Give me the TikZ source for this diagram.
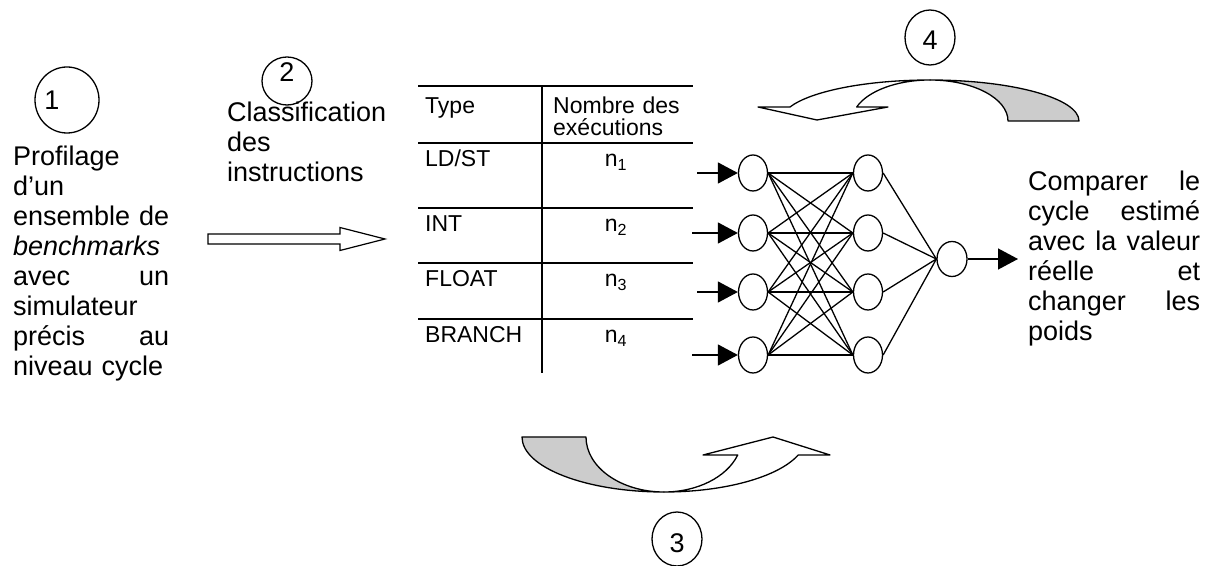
\documentclass[tikz,border=0pt]{standalone}
\usepackage{fontspec}
\setmainfont{Liberation Sans}
\usetikzlibrary{arrows.meta,shapes.geometric}
\begin{document}
\begin{tikzpicture}[x=1pt,y=1pt,
  ln/.style={line width=1.3pt},
  txt/.style={font=\fontsize{27}{30}\selectfont, inner sep=0pt},
  tabtxt/.style={font=\fontsize{23}{22}\selectfont, inner sep=0pt},
  numcirc/.style={draw, ellipse, line width=1.3pt, inner sep=0pt},
  neuron/.style={draw, ellipse, line width=1.3pt, inner sep=0pt, minimum width=29pt, minimum height=36pt},
  tip/.style={-{Triangle[length=20pt,width=21pt]}},
  ribbon/.style={line width=1.3pt, line join=round},
]
\useasboundingbox (0,0) rectangle (1215,565);

% numbered circles
\node[numcirc, minimum width=64pt, minimum height=66pt] (c1) at (67,465) {};
\node[txt, anchor=base] (l1) at (52,455) {1};
\node[numcirc, minimum width=50pt, minimum height=48pt] (c2) at (287,484) {};
\node[txt, anchor=base] (l2) at (287,483) {2};
\node[numcirc, minimum width=50pt, minimum height=55pt] (c4) at (930,527.5) {};
\node[txt, anchor=base] (l4) at (930,515) {4};
\node[numcirc, minimum width=50pt, minimum height=54pt] (c3) at (677,26) {};
\node[txt, anchor=base] (l3) at (677,13) {3};

% text blocks
\node[txt, text width=156pt, align=left, anchor=base west] (prof) at (13,399)
  {Profilage\\ d’un\\ ensemble\hfill de\\ \textit{benchmarks}\\ avec\hfill un\\ simulateur\\ précis\hfill au\\ niveau cycle};
\node[txt, text width=165pt, align=left, anchor=base west] (classif) at (227,443)
  {Classification\\ des\\ instructions};
\node[txt, text width=172pt, align=left, anchor=base west] (comp) at (1028,374)
  {Comparer\hfill le\\ cycle\hfill estimé\\ avec\hfill la\hfill valeur\\ réelle\hfill et\\ changer\hfill les\\ poids};

% hollow arrow
\draw[line width=1.2pt, line join=miter] (208,321) -- (340,321) -- (340,314.5) -- (385,326) -- (340,337.5) -- (340,331) -- (208,331) -- cycle;

% table
\foreach \yy in {479,422,357,302,246} \draw[ln] (418,\yy) -- (693,\yy);
\draw[ln] (542,479) -- (542,192);
\node[tabtxt, anchor=base west] (ty) at (425,451) {Type};
\node[tabtxt, text width=138pt, align=left, anchor=base west] (nb) at (553,451) {Nombre des\\exécutions};
\node[tabtxt, anchor=base west] (r1) at (425,398) {LD/ST};
\node[tabtxt, anchor=base west] (r2) at (425,333) {INT};
\node[tabtxt, anchor=base west] (r3) at (425,278) {FLOAT};
\node[tabtxt, anchor=base west] (r4) at (425,222) {BRANCH};
\node[tabtxt, anchor=base] (v1) at (616,398) {n\textsubscript{1}};
\node[tabtxt, anchor=base] (v2) at (616,333) {n\textsubscript{2}};
\node[tabtxt, anchor=base] (v3) at (616,278) {n\textsubscript{3}};
\node[tabtxt, anchor=base] (v4) at (616,222) {n\textsubscript{4}};

% neural network
\foreach \k/\yy in {1/392,2/332,3/273,4/210} {
  \node[neuron] (in\k) at (753,\yy) {};
  \node[neuron] (hid\k) at (868,\yy) {};
}
\node[neuron, minimum width=30pt, minimum height=35pt] (out) at (952,306) {};
\coordinate (s1) at (697,392);
\coordinate (s2) at (692,332);
\coordinate (s3) at (697,273);
\coordinate (s4) at (692,210);
\coordinate (res) at (1018,306);
\foreach \k in {1,...,4} \draw[ln, tip] (s\k) -- (in\k.west);
\foreach \a in {1,...,4} \foreach \b in {1,...,4} \draw[ln] (in\a.east) -- (hid\b.west);
\foreach \b in {1,...,4} \draw[ln] (hid\b.east) -- (out.west);
\draw[ln, tip] (out.east) -- (res);

% curved arrow 3 (bottom)
\draw[ribbon, fill=gray!40] (522,128) arc[start angle=180,end angle=270,x radius=142,y radius=55]
  arc[start angle=270,end angle=180,x radius=78,y radius=55] -- cycle;
\draw[ribbon, fill=white] (664,73) arc[start angle=270,end angle=340.9,x radius=142,y radius=55]
  -- (830,110) -- (773,128) -- (703,110) -- (737.7,110)
  arc[start angle=340.9,end angle=270,x radius=78,y radius=55] -- cycle;

% curved arrow 4 (top)
\draw[ribbon, fill=gray!40] (1079,444) arc[start angle=0,end angle=90,x radius=149,y radius=41]
  arc[start angle=90,end angle=0,x radius=78,y radius=41] -- cycle;
\draw[ribbon, fill=white] (930,485) arc[start angle=90,end angle=160.06,x radius=149,y radius=41]
  -- (758,458) -- (817,445) -- (888,458) -- (856.7,458)
  arc[start angle=160.06,end angle=90,x radius=78,y radius=41] -- cycle;
\end{tikzpicture}
\end{document}
